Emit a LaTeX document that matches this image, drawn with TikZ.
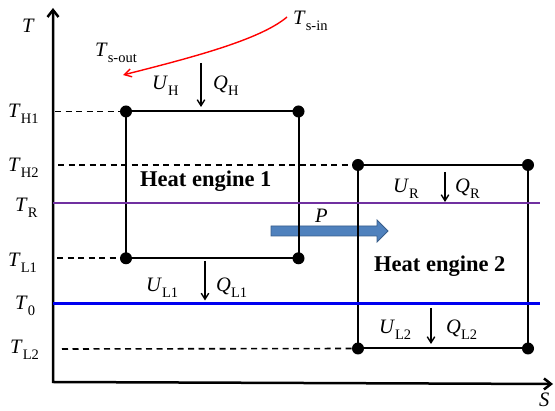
\documentclass[tikz,border=0pt]{standalone}
\usepackage{fontspec}
\setmainfont{Liberation Serif}
\usetikzlibrary{arrows.meta}
\definecolor{purp}{HTML}{7030A0}
\definecolor{pblue}{HTML}{0000F0}
\definecolor{arrfill}{HTML}{4F81BD}
\definecolor{arrdraw}{HTML}{385D8A}
\newcommand\lb[2]{\textit{#1}\raisebox{-6pt}{\fontsize{14.5}{15}\selectfont #2}}
\begin{document}
\begin{tikzpicture}[x=1pt,y=-1pt,
  lab/.style={anchor=base west,inner sep=0pt,font=\fontsize{20.5}{22}\selectfont},
  eng/.style={anchor=base west,inner sep=0pt,font=\bfseries\fontsize{22.5}{24}\selectfont},
  cyc/.style={line width=2pt},
  lvl/.style={dash pattern=on 6pt off 4.5pt, line width=1.6pt},
  dotnode/.style={circle,fill=black,inner sep=0pt,minimum size=12pt},
  heatarrow/.style={line width=1.4pt,-{Straight Barb[length=6pt,width=7.5pt]}},
  axisline/.style={line width=2.5pt,{Straight Barb[length=7pt,width=11pt]}-{Straight Barb[length=7pt,width=11pt]}}]
\useasboundingbox (0,0) rectangle (555,411);
% axes
\coordinate (O) at (53,382);
\coordinate (Ttop) at (53,8);
\coordinate (Send) at (553,384);
\draw[axisline] (Ttop) -- (O) -- (Send);
% power arrow
\draw[fill=arrfill,draw=arrdraw,line width=0.8pt] (271,226) -- (377,226) -- (377,220) -- (388,231) -- (377,242) -- (377,236) -- (271,236) -- cycle;
% corners
\coordinate (a1) at (126,111.5);
\coordinate (b1) at (298.5,111.5);
\coordinate (c1) at (126,258.3);
\coordinate (d1) at (298.5,258.3);
\coordinate (a2) at (358,165);
\coordinate (b2) at (528,165);
\coordinate (c2) at (358,348.5);
\coordinate (d2) at (528,348.5);
% dashed levels
\coordinate (h1s) at (55,111.5);
\coordinate (h2s) at (58,165);
\coordinate (l1s) at (57,258.3);
\coordinate (l2s) at (62,349);
\draw[lvl] (h1s) -- (a1);
\draw[lvl] (h2s) -- (a2);
\draw[lvl] (l1s) -- (c1);
\draw[lvl] (l2s) -- (c2);
% cycles
\draw[cyc] (a1) -- (b1) -- (d1) -- (c1) -- cycle;
\draw[cyc] (a2) -- (b2) -- (d2) -- (c2) -- cycle;
% reservoir lines
\coordinate (Rs) at (53,202.7);
\coordinate (Re) at (540,202.7);
\coordinate (Zs) at (53,303.5);
\coordinate (Ze) at (540,303.5);
\draw[purp,line width=2.2pt] (Rs) -- (Re);
\draw[pblue,line width=2.2pt] (Zs) -- (Ze);
% dots
\foreach \c in {a1,b1,c1,d1,a2,b2,c2,d2} \node[dotnode] (\c-dot) at (\c) {};
% heat arrows
\coordinate (qh1) at (201,63);   \coordinate (qh2) at (201,107);
\coordinate (qr1) at (445,172);  \coordinate (qr2) at (445,202);
\coordinate (ql1) at (205,261);  \coordinate (ql2) at (205,300.5);
\coordinate (qm1) at (431,308);  \coordinate (qm2) at (431,344);
\draw[heatarrow] (qh1) -- (qh2);
\draw[heatarrow] (qr1) -- (qr2);
\draw[heatarrow] (ql1) -- (ql2);
\draw[heatarrow] (qm1) -- (qm2);
% source stream
\coordinate (sin) at (287,17);
\coordinate (sout) at (123,75);
\draw[red,line width=1.4pt,-{Straight Barb[length=7pt,width=8pt]}] (sin) .. controls (260,40) and (190,58) .. (sout);
% labels
\node[lab] (lT) at (22,33) {\textit{T}};
\node[lab] (lS) at (539,407) {\textit{S}};
\node[lab] (lTH1) at (8,118) {\lb{T}{H1}};
\node[lab] (lTH2) at (8,172) {\lb{T}{H2}};
\node[lab] (lTR) at (15,212) {\lb{T}{R}};
\node[lab] (lTL1) at (8,267) {\lb{T}{L1}};
\node[lab] (lT0) at (15,310) {\lb{T}{0}};
\node[lab] (lTL2) at (10,354) {\lb{T}{L2}};
\node[lab] (lUH) at (152,90) {\lb{U}{H}};
\node[lab] (lQH) at (213,90) {\lb{Q}{H}};
\node[lab] (lUR) at (393,193) {\lb{U}{R}};
\node[lab] (lQR) at (455,193) {\lb{Q}{R}};
\node[lab] (lUL1) at (146,291.5) {\lb{U}{L1}};
\node[lab] (lQL1) at (216,291.5) {\lb{Q}{L1}};
\node[lab] (lUL2) at (379,334) {\lb{U}{L2}};
\node[lab] (lQL2) at (446,334) {\lb{Q}{L2}};
\node[lab] (lP) at (315,223) {\textit{P}};
\node[lab] (lsin) at (293,25) {\lb{T}{s-in}};
\node[lab] (lsout) at (95,57) {\lb{T}{s-out}};
\node[eng] (e1) at (140,187) {Heat engine 1};
\node[eng] (e2) at (374,272) {Heat engine 2};
\end{tikzpicture}
\end{document}
